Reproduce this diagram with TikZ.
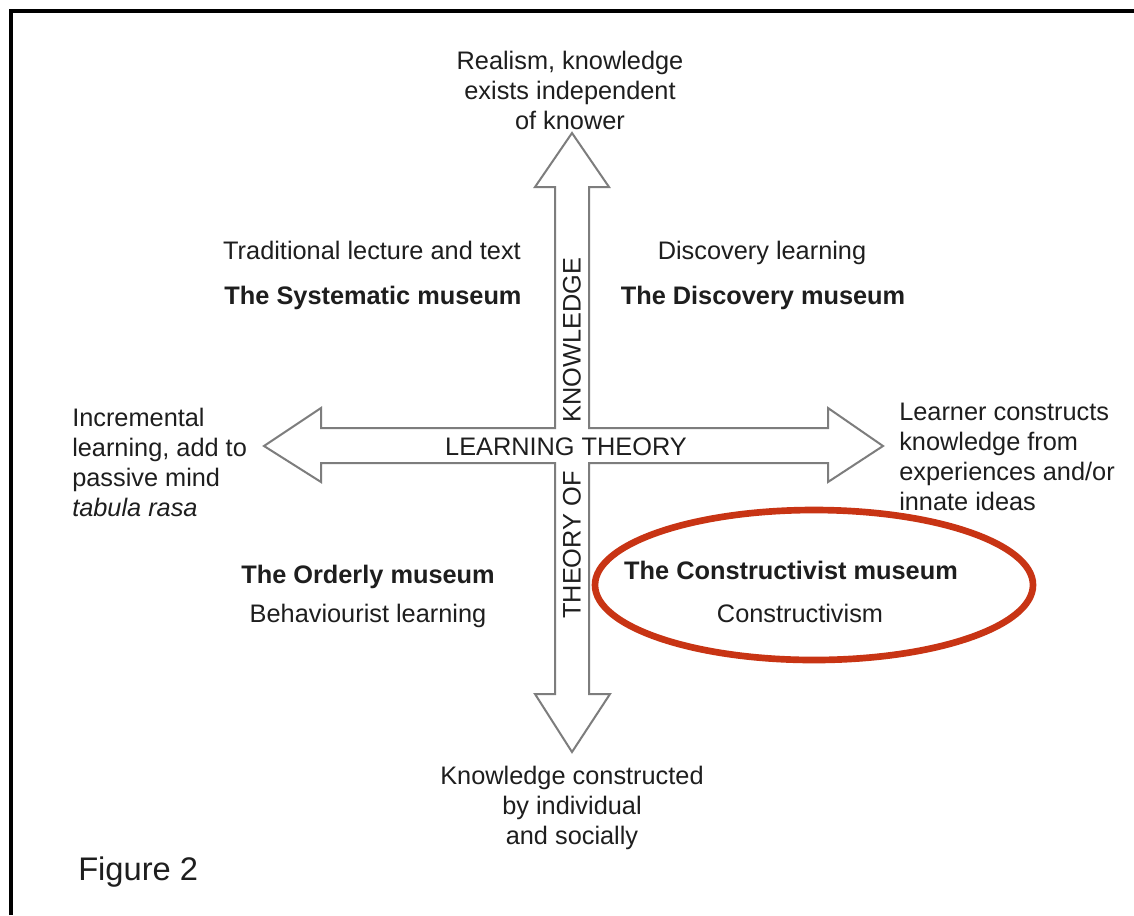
\documentclass[tikz,border=0pt]{standalone}
\usepackage{fontspec}
\setmainfont{Liberation Sans}
\definecolor{ellred}{RGB}{200,52,20}
\definecolor{arrowgray}{RGB}{125,125,125}
\definecolor{txt}{RGB}{30,30,30}
\begin{document}
\begin{tikzpicture}[x=0.75pt,y=-0.75pt,
  lbl/.style={inner sep=0pt,text=txt,font=\fontsize{19}{22.5}\selectfont},
  blbl/.style={lbl,font=\fontsize{19}{22.5}\selectfont\bfseries},
  crossline/.style={draw=arrowgray,line width=1.5pt,line join=miter,fill=white}]
\useasboundingbox (0,0) rectangle (1134,915);
\fill[white] (0,0) rectangle (1134,915);
% frame (top and left edges visible)
\draw[black,line width=2.8pt] (11,915) -- (11,11) -- (1134,11);
% cross of four arrows
\draw[crossline]
  (572,133) -- (609,187) -- (589,187) -- (589,428) -- (828,428) -- (828,408)
  -- (883,446) -- (828,482) -- (828,463) -- (589,463) -- (589,694) -- (610,694)
  -- (572,752) -- (535,694) -- (555,694) -- (555,463) -- (321,463) -- (321,482)
  -- (264,446) -- (321,408) -- (321,428) -- (555,428) -- (555,187) -- (535,187)
  -- cycle;
% ellipse
\draw[ellred,line width=5pt] (814,585) ellipse [x radius=219, y radius=75];
% texts
\node[lbl,align=center] (top) at (570,90) {Realism, knowledge\\exists independent\\of knower};
\node[lbl] (trad) at (372,250) {Traditional lecture and text};
\node[blbl] (sys) at (373,298) {The Systematic museum};
\node[lbl] (disc) at (762,253) {Discovery learning};
\node[blbl] (discm) at (763,298) {The Discovery museum};
\node[lbl,rotate=90] (know) at (572,340) {KNOWLEDGE};
\node[lbl,rotate=90] (theo) at (572,545) {THEORY OF};
\node[lbl] (lt) at (566,447) {LEARNING THEORY};
\node[lbl,align=left,anchor=west] (left) at (72,462) {Incremental\\learning, add to\\passive mind\\\textit{tabula rasa}};
\node[lbl,align=left,anchor=west] (right) at (899,457) {Learner constructs\\knowledge from\\experiences and/or\\innate ideas};
\node[blbl] (ord) at (368,577) {The Orderly museum};
\node[lbl] (beh) at (368,616) {Behaviourist learning};
\node[blbl] (cons) at (791,570) {The Constructivist museum};
\node[lbl] (consm) at (800,613) {Constructivism};
\node[lbl,align=center] (bot) at (572,808) {Knowledge constructed\\by individual\\and socially};
\node[lbl,anchor=west,font=\fontsize{24.5}{28}\selectfont] (fig) at (78,872) {Figure 2};
\end{tikzpicture}
\end{document}
